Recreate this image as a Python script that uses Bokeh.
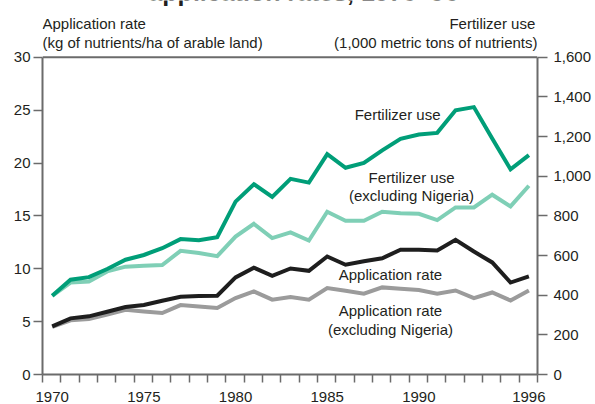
from bokeh.plotting import figure
from bokeh.models import Range1d, LinearAxis, FixedTicker, NumeralTickFormatter, Label, Span
from bokeh.embed import file_html
from bokeh.resources import INLINE

years = list(range(1970, 1997))
# Fertilizer use, 1,000 metric tons of nutrients (right axis)
fert_use = [397, 478, 491, 532, 579, 603, 637, 683, 677, 693, 872, 960, 896, 987, 968,
            1112, 1043, 1067, 1131, 1189, 1211, 1219, 1333, 1349, 1190, 1035, 1107]
fert_use_excl_nigeria = [397, 464, 469, 520, 544, 549, 552, 624, 613, 597, 696, 760, 688, 717, 676,
                         821, 776, 776, 821, 813, 811, 779, 843, 843, 907, 848, 952]
# Application rate, kg of nutrients/ha of arable land (left axis)
app_rate = [4.56, 5.31, 5.5, 5.94, 6.38, 6.57, 6.98, 7.36, 7.42, 7.45, 9.18, 10.1, 9.34, 10.03, 9.81,
            11.16, 10.38, 10.72, 11.0, 11.8, 11.8, 11.73, 12.74, 11.63, 10.6, 8.7, 9.28]
app_rate_excl_nigeria = [4.5, 5.13, 5.25, 5.66, 6.13, 5.97, 5.82, 6.57, 6.44, 6.29, 7.23, 7.86, 7.08, 7.33, 7.08,
                         8.18, 7.92, 7.64, 8.24, 8.11, 7.99, 7.64, 7.95, 7.23, 7.76, 7.0, 7.95]

x_tick_labels = [1970, 1975, 1980, 1985, 1990, 1996]
left_ticks = [0, 5, 10, 15, 20, 25, 30]
right_ticks = [0, 200, 400, 600, 800, 1000, 1200, 1400, 1600]

FONT = "Liberation Sans"
TXT = "#231f20"
AX = "#6b6b6b"
DARK_TEAL = "#009e78"
LIGHT_TEAL = "#7fcfb6"
BLACK = "#1e1e1e"
GREY = "#9b9b9b"

# frame spans the full canvas height above the axis so that headers fit inside it
Y_TOP = 30 * 375 / 318.0
R_TOP = 1600 * 375 / 318.0

p = figure(width=595, height=404, output_backend="svg", toolbar_location=None,
           x_range=Range1d(1969.47, 1996.47), y_range=Range1d(0, Y_TOP),
           min_border_left=42, min_border_right=58, min_border_top=0, min_border_bottom=29)
p.extra_y_ranges = {"right": Range1d(0, R_TOP)}
p.xgrid.visible = False
p.ygrid.visible = False
p.outline_line_color = None
p.background_fill_color = "white"
p.border_fill_color = "white"

# bottom axis
xa = p.xaxis[0]
xa.ticker = FixedTicker(ticks=x_tick_labels, minor_ticks=[y - 0.53 for y in years] + [1996.47])
xa.major_tick_out = 0
xa.major_tick_in = 0
xa.minor_tick_out = 8
xa.minor_tick_in = 0
xa.minor_tick_line_color = AX
xa.minor_tick_line_width = 1.5
xa.major_label_standoff = 9

# left axis
ya = p.yaxis[0]
ya.ticker = FixedTicker(ticks=left_ticks)
ya.bounds = (0, 30)
ya.major_tick_out = 9
ya.major_tick_in = 0
ya.minor_tick_line_color = None
ya.major_label_standoff = 3

# right axis
ra = LinearAxis(y_range_name="right", ticker=FixedTicker(ticks=right_ticks),
                formatter=NumeralTickFormatter(format="0,0"), bounds=(0, 1600))
ra.major_tick_out = 10
ra.major_tick_in = 0
ra.minor_tick_line_color = None
ra.major_label_standoff = 6
p.add_layout(ra, "right")

for ax in (xa, ya, ra):
    ax.axis_line_color = AX
    ax.axis_line_width = 2
    ax.major_tick_line_color = AX
    ax.major_tick_line_width = 1.5
    ax.major_label_text_font = FONT
    ax.major_label_text_font_size = "15px"
    ax.major_label_text_color = TXT

# top edge of the plot box
p.add_layout(Span(location=30, dimension="width", line_color=AX, line_width=2))

LW = 4
p.line(years, app_rate_excl_nigeria, line_color=GREY, line_width=LW, line_join="miter")
p.line(years, app_rate, line_color=BLACK, line_width=LW, line_join="miter")
p.line(years, fert_use_excl_nigeria, line_color=LIGHT_TEAL, line_width=LW, line_join="miter", y_range_name="right")
p.line(years, fert_use, line_color=DARK_TEAL, line_width=LW, line_join="miter", y_range_name="right")


def lab(x, y, text, align="center", size="15px", style="normal", baseline="middle"):
    p.add_layout(Label(x=x, y=y, text=text, text_align=align, text_baseline=baseline,
                       text_font=FONT, text_font_size=size, text_color=TXT,
                       text_font_style=style))


# series labels
lab(1988.84, 24.6, "Fertilizer use")
lab(1989.6, 18.65, "Fertilizer use")
lab(1989.6, 16.9, "(excluding Nigeria)")
lab(1988.45, 9.43, "Application rate")
lab(1988.45, 6.07, "Application rate")
lab(1988.45, 4.25, "(excluding Nigeria)")

# axis headers
lab(1969.47, 33.24, "Application rate", align="left")
lab(1969.47, 31.44, "(kg of nutrients/ha of arable land)", align="left")
lab(1996.35, 33.24, "Fertilizer use", align="right")
lab(1996.47, 31.44, "(1,000 metric tons of nutrients)", align="right")

# title, cut off at the top edge as in the reference
lab(1983.7, 36.2, "application rates, 1970\u201396", size="25px", style="bold")

open("out.html", "w").write(file_html(p, INLINE))
